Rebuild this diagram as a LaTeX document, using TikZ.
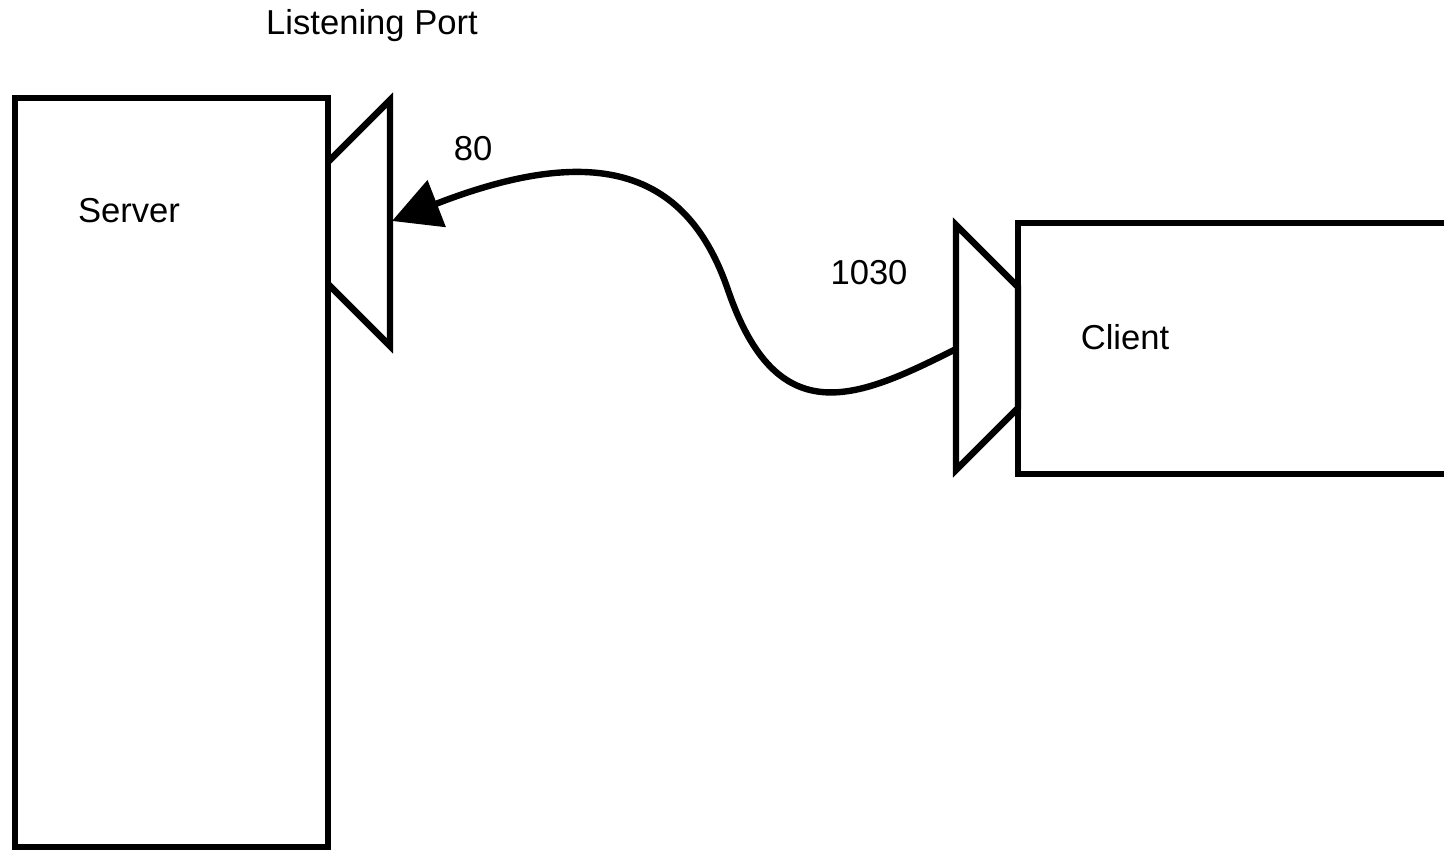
\documentclass[tikz,border=0pt]{standalone}
\usepackage{fontspec}
\setmainfont{Liberation Sans}
\usetikzlibrary{arrows.meta}

\begin{document}
\begin{tikzpicture}[x=0.5pt,y=-0.5pt,>={Triangle[length=24pt,width=24.5pt]},
font=\fontsize{17.3}{20}\selectfont,
outline/.style={draw,line width=3.2pt},
lbl/.style={inner sep=0pt,anchor=base},
arr/.style={->,line width=3.2pt}]
\clip (0,0) rectangle (1444,850);
% server and client boxes
\draw[outline] (15,98) rectangle (328,847);
\draw[outline] (1018,223) rectangle (1480,474);
% ports
\draw[outline] (328,162)--(390,100)--(390,346)--(328,284);
\draw[outline] (956,225)--(1018,287)--(1018,408)--(956,470)--cycle;
\coordinate (sport) at (392,221);
\coordinate (cport) at (956,349);
\node[lbl] (listen) at (372,35) {Listening Port};
\node[lbl] (server) at (129,222) {Server};
\node[lbl] (client) at (1125,349) {Client};
\node[lbl] (p80) at (473,161) {80};
\node[lbl] (p1030) at (869,285) {1030};
\draw[arr] (cport) .. controls (860,397) and (778,436) .. (728,290)
  .. controls (688,173) and (600,140) .. (sport);
\end{tikzpicture}
\end{document}
